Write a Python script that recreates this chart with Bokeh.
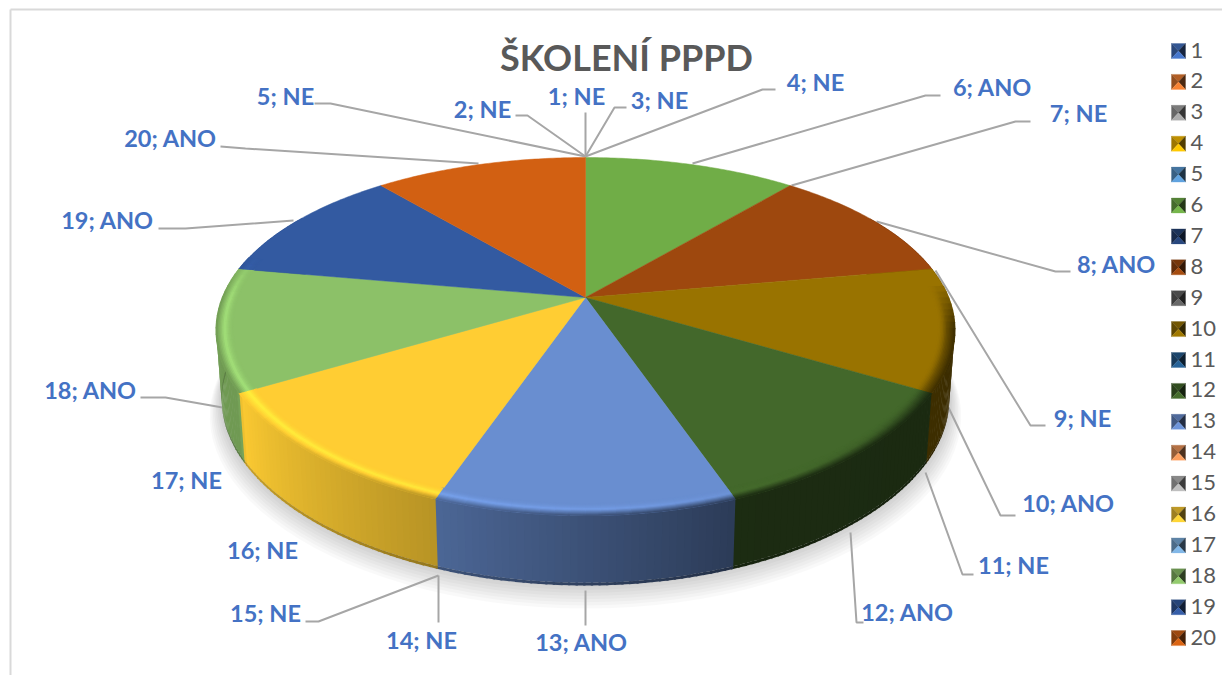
import numpy as np
from bokeh.plotting import figure
from bokeh.models import Range1d, ColumnDataSource
from bokeh.core.properties import value
from bokeh.embed import file_html
from bokeh.resources import INLINE

TITLE = "ŠKOLENÍ PPPD"
categories = [str(i) for i in range(1, 21)]
answers = ["NE", "NE", "NE", "NE", "NE", "ANO", "NE", "ANO", "NE", "ANO",
           "NE", "ANO", "ANO", "NE", "NE", "NE", "NE", "ANO", "ANO", "ANO"]
values = [0, 0, 0, 0, 0, 1, 0, 1, 0, 1, 0, 1, 1, 0, 0, 1, 0, 1, 1, 1]
palette = ["#4472C4", "#ED7D31", "#A5A5A5", "#FFC000", "#5B9BD5", "#70AD47", "#264478", "#9E480E", "#636363", "#997300",
           "#255E91", "#43682B", "#698ED0", "#F1975A", "#B7B7B7", "#FFCD33", "#7CAFDD", "#8CC168", "#335AA1", "#D26012"]

# label layout (page pixels): centre of each label
label_x = [576, 482, 659, 815, 285, 992, 1078, 1116, 1082, 1068, 1013, 907, 581, 421, 265, 262, 186, 90, 107, 170]
label_y = [95, 108, 99, 81, 95, 86, 112, 263, 417, 502, 564, 611, 641, 639, 612, 549, 479, 389, 219, 137]
leaders = {
    1: [(585, 112), (585, 155)],
    2: [(515, 115), (527, 115), (585, 156)],
    3: [(626, 107), (614, 107), (585, 156)],
    4: [(775, 89), (762, 89), (585, 156)],
    5: [(314, 103), (330, 103), (585, 156)],
    6: [(940, 95), (925, 95), (692, 163)],
    7: [(1030, 121), (1015, 121), (791, 185)],
    8: [(1070, 271), (1055, 271), (876, 221)],
    9: [(1045, 425), (1030, 425), (935, 270)],
    10: [(1015, 515), (1000, 515), (948, 407)],
    11: [(973, 574), (962, 574), (925, 472)],
    12: [(863, 622), (856, 622), (850, 532)],
    13: [(585, 590), (585, 625)],
    14: [(438, 575), (438, 622)],
    15: [(305, 621), (318, 621), (438, 575)],
    18: [(140, 397), (165, 397), (222, 407)],
    19: [(158, 228), (185, 228), (293, 220)],
    20: [(220, 146), (245, 148), (478, 163)],
}

# projection of the pie's top disc and its extrusion
CX, CY, A, B, KX, KY, H, SHRINK = 585, 297, 363, 170.5, 0.183, 0.218, 70, 0.015


def pt(theta, r=1.0, h=0.0):
    t = np.radians(theta)
    x, y = r * np.sin(t), -r * np.cos(t)
    return CX + A * x / (1 - KX * y) * (1 - SHRINK * h), CY + B * y / (1 - KY * y) + H * h


def rgb(c):
    return np.array([int(c[i:i + 2], 16) for i in (1, 3, 5)], float)


def hexc(v):
    v = np.clip(np.round(v), 0, 255).astype(int)
    return "#%02x%02x%02x" % tuple(v)


def shade(c, f):
    return c * f


def side_f(th):
    return float(np.interp(th, [60, 120, 160, 200, 239, 241, 300], [.36, .40, .42, .72, .98, .80, .80]))


def high_f(th):
    return float(np.interp(th, [60, 120, 150, 175, 200, 240, 300], [.55, .75, 1.0, 1.1, 1.14, 1.17, 1.15]))


def bevel_on(th):
    return float(np.interp(th, [85, 100, 270, 285], [0, 1, 1, 0]))


p = figure(width=1222, height=675, output_backend="svg", toolbar_location=None,
           x_range=Range1d(0, 1222), y_range=Range1d(675, 0),
           min_border=0, outline_line_color=None, background_fill_color="white", border_fill_color="white")
p.axis.visible = False
p.grid.visible = False

# chart frame
p.line([10, 10], [675, 9], line_color="#d9d9d9", line_width=2)
p.line([10, 1222], [9, 9], line_color="#d9d9d9", line_width=2)

# soft shadow beneath the pie
ths = np.arange(60, 301, 3.0)
for i in range(9):
    sx, sy = zip(*[pt(t, 1.0 + 0.004 * i, 1.0) for t in ths])
    p.patch(np.array(sx), np.array(sy) + 2 * i - 2, fill_color="#000000", fill_alpha=0.022, line_color=None)

# leader lines
for pts in leaders.values():
    p.line([q[0] for q in pts], [q[1] for q in pts], line_color="#a6a6a6", line_width=2)

# slice spans
total = sum(values)
spans = []
start = 0.0
for v, c in zip(values, palette):
    if v > 0:
        spans.append((start, start + 360.0 * v / total, rgb(c)))
        start += 360.0 * v / total

# extruded wall
X, Y, C = [], [], []
for a0, a1, c in spans:
    for t0 in np.arange(a0, a1, 1.0):
        t1 = min(t0 + 1.0, a1)
        if t1 < 60 or t0 > 300:
            continue
        f = side_f(t0 + .5)
        for h0, h1, g in ((0.0, 0.96, 1.0), (0.96, 1.0, 0.8)):
            x0, y0 = pt(t0, 1, h0); x1, y1 = pt(t1 + 0.3, 1, h0)
            x2, y2 = pt(t1 + 0.3, 1, h1); x3, y3 = pt(t0, 1, h1)
            X.append([x0, x1, x2, x3]); Y.append([y0, y1, y2, y3]); C.append(hexc(shade(c, f * g)))
p.patches("x", "y", source=ColumnDataSource(dict(x=X, y=Y, c=C)), fill_color="c", line_color=None)

# top faces
for a0, a1, c in spans:
    ts = np.linspace(a0, a1, 60)
    ax, ay = zip(*[pt(t) for t in ts])
    p.patch([CX] + list(ax), [CY] + list(ay), fill_color=hexc(c), line_color=hexc(c), line_width=0.5)

# rounded bevel between top face and wall
N_RINGS = 12
profile = np.linspace(0.955, 1.0, N_RINGS + 1)
X, Y, C = [], [], []
for a0, a1, c in spans:
    for t0 in np.arange(a0, a1, 2.0):
        t1 = min(t0 + 2.0, a1)
        tm = (t0 + t1) / 2
        on = bevel_on(tm)
        if on <= 0:
            continue
        hl, sd = high_f(tm), side_f(tm)
        for j in range(N_RINGS):
            u = (j + .5) / N_RINGS
            if u < 0.5:
                f = 1 + (hl - 1) * (u / 0.5) ** 2
            else:
                f = hl + (sd - hl) * ((u - 0.5) / 0.5)
            f = 1 + (f - 1) * on
            r0, r1 = profile[j], profile[j + 1] + 0.002
            x0, y0 = pt(t0, r0); x1, y1 = pt(t1 + 0.3, r0)
            x2, y2 = pt(t1 + 0.3, r1); x3, y3 = pt(t0, r1)
            X.append([x0, x1, x2, x3]); Y.append([y0, y1, y2, y3]); C.append(hexc(shade(c, f)))
p.patches("x", "y", source=ColumnDataSource(dict(x=X, y=Y, c=C)), fill_color="c", line_color=None)

# data labels
texts = [f"{c}; {a}" for c, a in zip(categories, answers)]
p.text(label_x, label_y, text=texts, text_font=value("Lato"), text_font_style="bold",
       text_font_size="23.5px", text_color="#4472C4", text_align="center", text_baseline="middle")

# title
p.text([626], [56], text=[TITLE], text_font=value("Lato"), text_font_style="bold",
       text_font_size="36px", text_color="#595959", text_align="center", text_baseline="middle")

# legend
LX0, LX1, LY0, LSTEP, LS = 1171, 1185, 50.5, 30.9, 7.5
lx, ly, lc = [], [], []
for i, c in enumerate(palette):
    yc = LY0 + i * LSTEP
    xm = (LX0 + LX1) / 2
    base = rgb(c)
    tri = [([LX0, LX1, xm], [yc - LS, yc - LS, yc], 0.75),
           ([LX0, xm, LX0], [yc - LS, yc, yc + LS], 0.62),
           ([LX1, xm, LX1], [yc - LS, yc, yc + LS], 0.32),
           ([LX0, LX1, xm], [yc + LS, yc + LS, yc], 1.05)]
    for tx, ty, f in tri:
        lx.append(tx); ly.append(ty); lc.append(hexc(shade(base, f)))
p.patches("x", "y", source=ColumnDataSource(dict(x=lx, y=ly, c=lc)), fill_color="c", line_color="c", line_width=0.3)
p.text([1190] * len(categories), [LY0 + i * LSTEP - 1 for i in range(len(categories))], text=categories,
       text_font=value("Lato"), text_font_size="22px", text_color="#595959", text_align="left", text_baseline="middle")

open("out.html", "w").write(file_html(p, INLINE))
